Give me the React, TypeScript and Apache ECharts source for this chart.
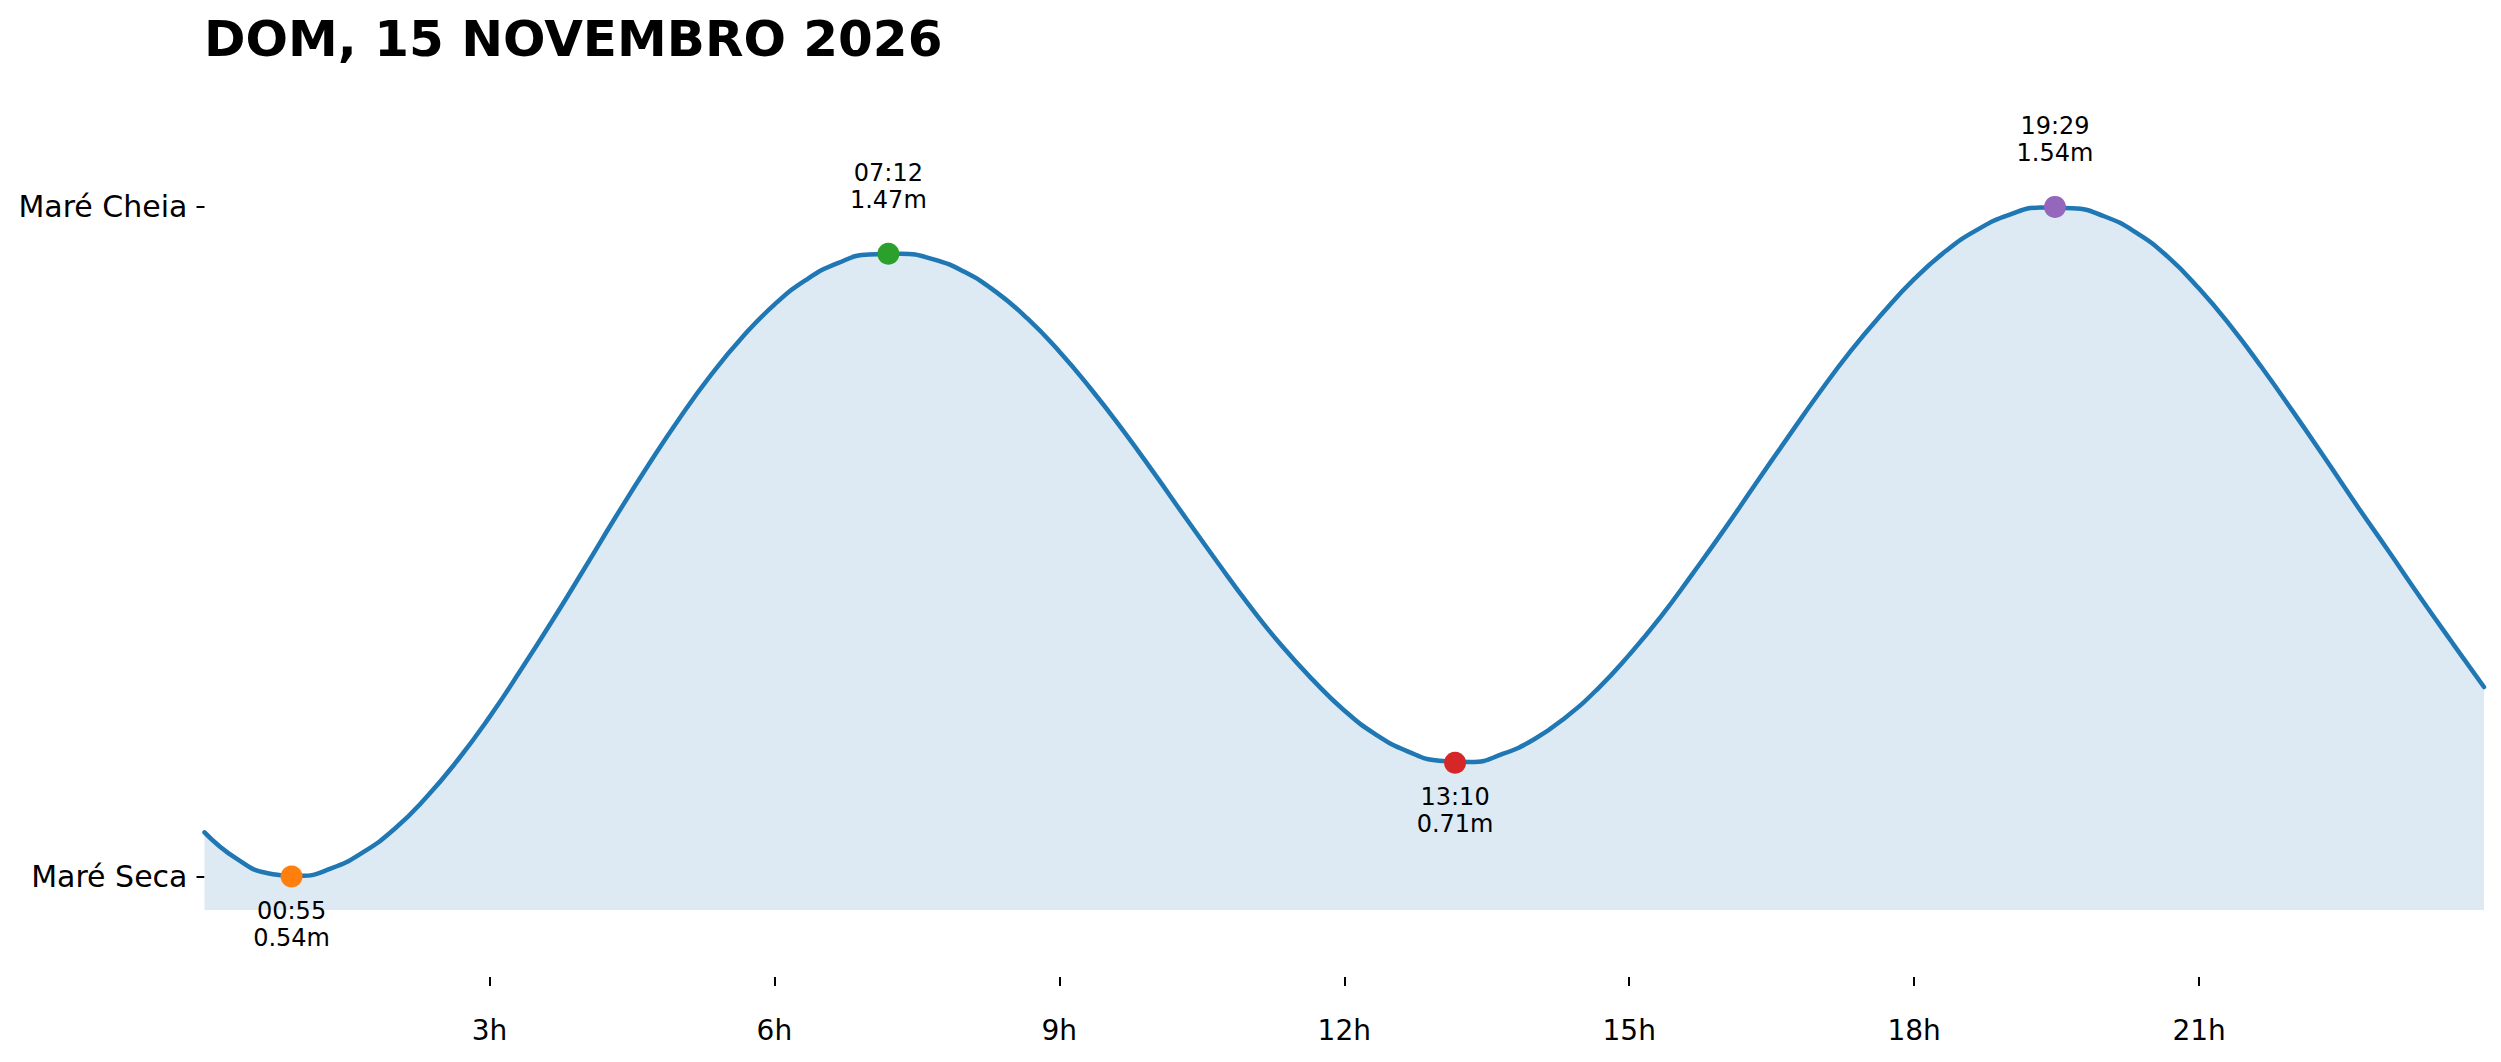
import React, { useEffect, useRef } from "react";
import * as echarts from "echarts";

// Tide curve samples every 20 minutes (hours of day, metres)
const HOURS = [
  0, 0.3333, 0.6667, 1, 1.3333, 1.6667, 2, 2.3333, 2.6667, 3, 3.3333, 3.6667,
  4, 4.3333, 4.6667, 5, 5.3333, 5.6667, 6, 6.3333, 6.6667, 7,
  7.3333, 7.6667, 8, 8.3333, 8.6667, 9, 9.3333, 9.6667, 10, 10.3333, 10.6667,
  11, 11.3333, 11.6667, 12, 12.3333, 12.6667, 13,
  13.3333, 13.6667, 14, 14.3333, 14.6667, 15, 15.3333, 15.6667, 16, 16.3333, 16.6667,
  17, 17.3333, 17.6667, 18, 18.3333, 18.6667, 19, 19.3333,
  19.6667, 20, 20.3333, 20.6667, 21, 21.3333, 21.6667, 22, 22.3333, 22.6667,
  23, 23.3333, 23.6667, 24,
];
const LEVELS = [
  0.606, 0.567, 0.545, 0.541, 0.552, 0.576, 0.611, 0.658, 0.714, 0.778, 0.849, 0.923,
  1.0, 1.078, 1.153, 1.224, 1.289, 1.346, 1.394, 1.431, 1.456, 1.469,
  1.47, 1.462, 1.443, 1.413, 1.373, 1.324, 1.268, 1.207, 1.142, 1.075, 1.009,
  0.945, 0.886, 0.834, 0.788, 0.752, 0.727, 0.713,
  0.711, 0.723, 0.745, 0.778, 0.82, 0.871, 0.928, 0.992, 1.058, 1.127, 1.195,
  1.262, 1.325, 1.381, 1.432, 1.474, 1.506, 1.528, 1.539,
  1.538, 1.526, 1.502, 1.466, 1.418, 1.362, 1.299, 1.232, 1.163, 1.093,
  1.025, 0.956, 0.889, 0.823,
];

// Tide extremes
const TIDE_TIMES = ["00:55", "07:12", "13:10", "19:29"];
const TIDE_HOURS = [0.9167, 7.2, 13.1667, 19.4833];
const TIDE_HEIGHTS = [0.54, 1.47, 0.71, 1.54];
const TIDE_IS_HIGH = [false, true, false, true];

// Axis ticks
const X_TICKS = [3, 6, 9, 12, 15, 18, 21];
const Y_TICKS = [0.54, 1.54];
const Y_TICK_LABELS = ["Maré Seca", "Maré Cheia"];

const TITLE = "DOM, 15 NOVEMBRO 2026";
const MARKER_COLORS = ["#ff7f0e", "#2ca02c", "#d62728", "#9467bd"];
const FONT = "DejaVu Sans";

export default function App() {
  const ref = useRef<HTMLDivElement>(null);

  useEffect(() => {
    if (!ref.current) return;
    const chart = echarts.init(ref.current, null, { renderer: "svg" });
    chart.setOption({
      animation: false,
      backgroundColor: "#ffffff",
      title: {
        text: TITLE,
        left: 204,
        top: 14,
        padding: 0,
        textStyle: { fontFamily: FONT, fontSize: 50, fontWeight: "bold", color: "#000" },
      },
      grid: { left: 204.5, right: 17, top: 6, bottom: 152, containLabel: false },
      xAxis: {
        type: "value",
        min: 0,
        max: 24,
        offset: 67,
        axisLine: { show: false },
        splitLine: { show: false },
        axisTick: {
          show: true,
          customValues: X_TICKS,
          length: 9,
          lineStyle: { color: "#000", width: 2 },
        },
        axisLabel: {
          customValues: X_TICKS,
          formatter: (v: number) => `${v}h`,
          fontFamily: FONT,
          fontSize: 28,
          color: "#000",
          margin: 39,
        },
      },
      yAxis: {
        type: "value",
        min: 0.49,
        max: 1.84,
        axisLine: { show: false },
        splitLine: { show: false },
        axisTick: {
          show: true,
          customValues: Y_TICKS,
          length: 8,
          lineStyle: { color: "#000", width: 2 },
        },
        axisLabel: {
          customValues: Y_TICKS,
          formatter: (v: number) => {
            let best = 0;
            Y_TICKS.forEach((t, i) => {
              if (Math.abs(t - v) < Math.abs(Y_TICKS[best] - v)) best = i;
            });
            return Y_TICK_LABELS[best];
          },
          fontFamily: FONT,
          fontSize: 30,
          color: "#000",
          margin: 17,
        },
      },
      series: [
        {
          type: "line",
          data: HOURS.map((h, i) => [h, LEVELS[i]]),
          showSymbol: false,
          smooth: 0.5,
          lineStyle: { color: "#1f77b4", width: 4.5, join: "round", cap: "round" },
          areaStyle: { color: "#dde9f3", opacity: 1, origin: "start" },
          z: 2,
          silent: true,
        },
        {
          type: "scatter",
          symbolSize: 22,
          z: 3,
          itemStyle: { opacity: 1 },
          data: TIDE_HOURS.map((h, i) => ({
            value: [h, TIDE_HEIGHTS[i]],
            itemStyle: { color: MARKER_COLORS[i], opacity: 1 },
            label: {
              position: TIDE_IS_HIGH[i] ? "top" : "bottom",
              distance: TIDE_IS_HIGH[i] ? 29 : 10,
            },
          })),
          label: {
            show: true,
            formatter: (p: any) =>
              `${TIDE_TIMES[p.dataIndex]}\n${TIDE_HEIGHTS[p.dataIndex].toFixed(2)}m`,
            fontFamily: FONT,
            fontSize: 24,
            lineHeight: 27,
            color: "#000",
            align: "center",
          },
        },
      ],
    });
    return () => chart.dispose();
  }, []);

  return (
    <div
      ref={ref}
      style={{ position: "fixed", left: 0, top: 0, width: 2501, height: 1062, background: "#fff" }}
    />
  );
}
